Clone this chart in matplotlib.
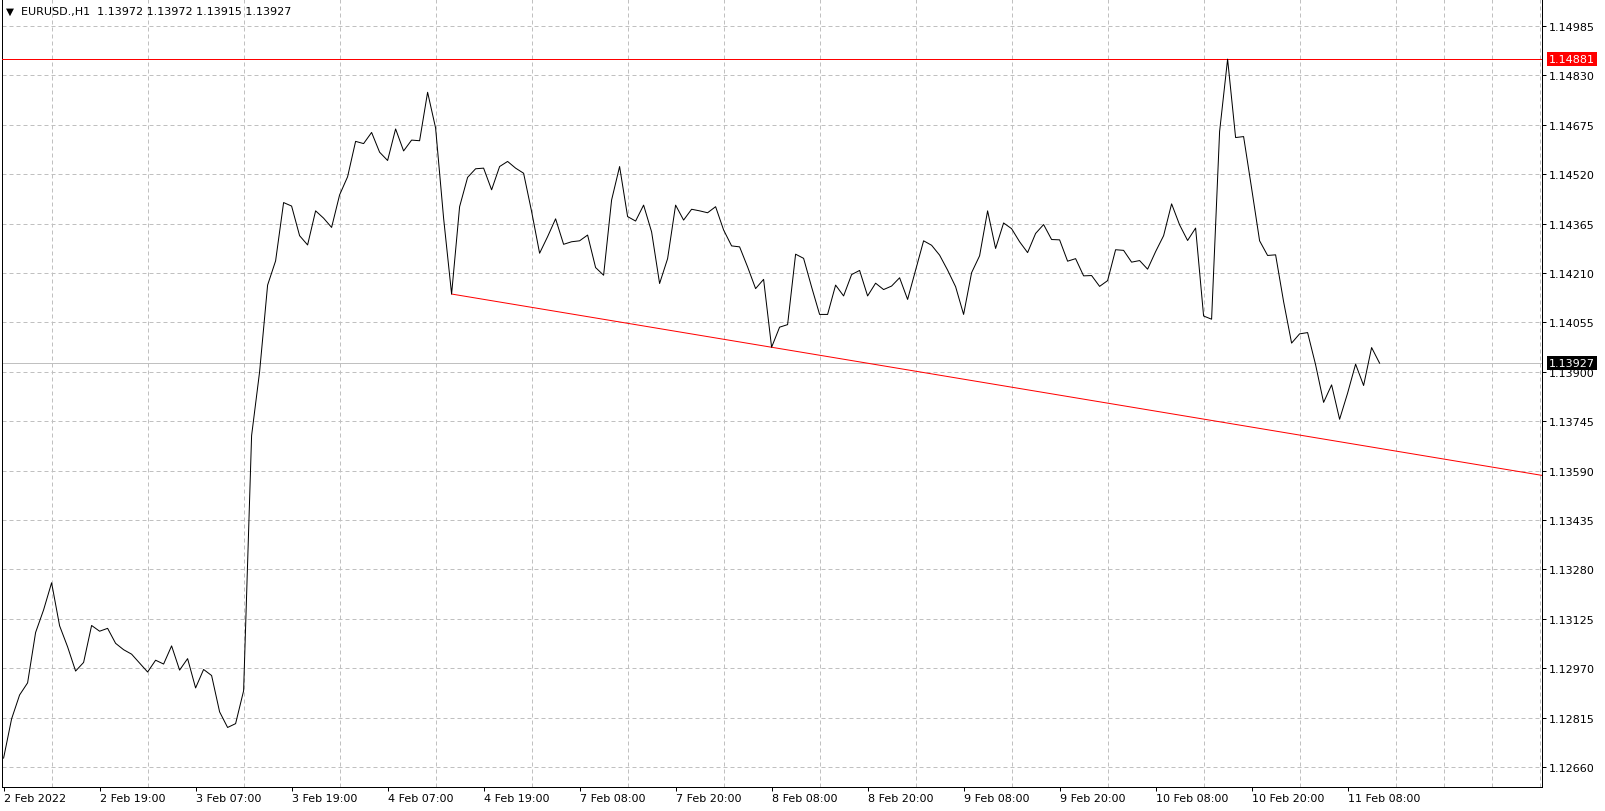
import numpy as np
import matplotlib
matplotlib.use("Agg")
import matplotlib.pyplot as plt
import matplotlib.transforms as mtransforms

# EURUSD H1 closes, 2 Feb 2022 07:00 .. 11 Feb 2022 ~12:00
closes = [
    1.12688, 1.12811, 1.12886, 1.12924, 1.13082, 1.13153, 1.13238, 1.13103, 1.13037, 1.12961,
    1.12988, 1.13104, 1.13086, 1.13095, 1.13048, 1.13028, 1.13014, 1.12986, 1.12958, 1.12995,
    1.12983, 1.13040, 1.12964, 1.13000, 1.12908, 1.12966, 1.12947, 1.12833, 1.12784, 1.12796,
    1.12899, 1.13700, 1.13900, 1.14172, 1.14248, 1.14431, 1.14420, 1.14327, 1.14298, 1.14405,
    1.14382, 1.14353, 1.14455, 1.14512, 1.14623, 1.14616, 1.14651, 1.14589, 1.14563, 1.14662,
    1.14593, 1.14627, 1.14625, 1.14777, 1.14665, 1.14382, 1.14144, 1.14418, 1.14510, 1.14537,
    1.14539, 1.14471, 1.14544, 1.14560, 1.14539, 1.14523, 1.14403, 1.14272, 1.14324, 1.14380,
    1.14300, 1.14308, 1.14311, 1.14329, 1.14227, 1.14203, 1.14439, 1.14544, 1.14387, 1.14373,
    1.14423, 1.14339, 1.14177, 1.14255, 1.14423, 1.14376, 1.14410, 1.14405, 1.14399, 1.14418,
    1.14345, 1.14295, 1.14292, 1.14229, 1.14161, 1.14190, 1.13977, 1.14040, 1.14048, 1.14269,
    1.14256, 1.14166, 1.14080, 1.14080, 1.14172, 1.14138, 1.14205, 1.14218, 1.14138, 1.14178,
    1.14158, 1.14169, 1.14195, 1.14127, 1.14219, 1.14311, 1.14297, 1.14266, 1.14219, 1.14167,
    1.14080, 1.14211, 1.14264, 1.14405, 1.14287, 1.14367, 1.14349, 1.14308, 1.14274, 1.14334,
    1.14362, 1.14315, 1.14314, 1.14247, 1.14255, 1.14201, 1.14202, 1.14168, 1.14186, 1.14283,
    1.14281, 1.14244, 1.14249, 1.14222, 1.14277, 1.14327, 1.14427, 1.14361, 1.14312, 1.14351,
    1.14075, 1.14065, 1.14654, 1.14881, 1.14635, 1.14638, 1.14476, 1.14311, 1.14265, 1.14267,
    1.14120, 1.13990, 1.14019, 1.14023, 1.13922, 1.13804, 1.13859, 1.13751, 1.13833, 1.13924,
    1.13857, 1.13976, 1.13927,
]

# last bar OHLC shown in the header
last_ohlc = ["1.13972", "1.13972", "1.13915", "1.13927"]

# bars that the trendline is anchored to
trend_bars = [56, 96]

x_label_bars = [0, 12, 24, 36, 48, 60, 72, 84, 96, 108, 120, 132, 144, 156, 168]
x_labels = ["2 Feb 2022", "2 Feb 19:00", "3 Feb 07:00", "3 Feb 19:00", "4 Feb 07:00",
            "4 Feb 19:00", "7 Feb 08:00", "7 Feb 20:00", "8 Feb 08:00", "8 Feb 20:00",
            "9 Feb 08:00", "9 Feb 20:00", "10 Feb 08:00", "10 Feb 20:00", "11 Feb 08:00"]
y_ticks = [1.12660, 1.12815, 1.12970, 1.13125, 1.13280, 1.13435, 1.13590, 1.13745,
           1.13900, 1.14055, 1.14210, 1.14365, 1.14520, 1.14675, 1.14830, 1.14985]

W, H = 1606, 812
px = 1 / 100 * 72  # one pixel in points

fig = plt.figure(figsize=(W / 100, H / 100), dpi=100)
fig.patch.set_facecolor("white")
ax = fig.add_axes([2 / W, 24 / H, 1540 / W, 788 / H])

bars = np.arange(len(closes))
ax.plot(bars, closes, color="black", lw=px, zorder=4)

# resistance line at the session high
high = max(closes)
ax.axhline(high, color="#ff0000", lw=px, zorder=3)

# bid line
bid = closes[-1]
ax.axhline(bid, color="#c0c0c0", lw=px, zorder=2)

ax.set_xlim(-0.2, 192.3)
ax.set_ylim(1.125972, 1.150697)

# trendline ray through the two lows
b0, b1 = trend_bars
slope = (closes[b1] - closes[b0]) / (b1 - b0)
x_end = ax.get_xlim()[1]
ax.plot([b0, x_end], [closes[b0], closes[b0] + slope * (x_end - b0)],
        color="#ff0000", lw=px, zorder=3)

# axes styling
for s in ["left", "bottom", "right"]:
    ax.spines[s].set_color("black")
    ax.spines[s].set_linewidth(px)
ax.spines["top"].set_visible(False)

ax.yaxis.tick_right()
ax.set_yticks(y_ticks)
ax.set_yticklabels([f"{v:.5f}" for v in y_ticks])
ax.set_xticks(x_label_bars)
ax.set_xticklabels(x_labels)
ax.set_xticks(np.arange(6, 193, 6), minor=True)
for lab in ax.get_xticklabels():
    lab.set_ha("left")

ax.tick_params(axis="both", which="major", labelsize=8, length=3, width=px,
               color="black", labelcolor="black")
ax.tick_params(axis="x", which="major", pad=1.5)
ax.tick_params(axis="x", which="minor", length=0)
ax.tick_params(axis="y", which="major", pad=2)

grid_kw = dict(color="#c0c0c0", lw=px, linestyle=(0, (4, 3)))
ax.grid(axis="y", which="major", **grid_kw)
ax.grid(axis="x", which="minor", **grid_kw)
ax.set_axisbelow(True)

# price tags on the right scale
trans = mtransforms.blended_transform_factory(ax.transAxes, ax.transData)
tag_x = 1 + 7 / 1540
ax.text(tag_x, high, f"{high:.5f}", transform=trans, fontsize=8, color="white",
        va="center", ha="left", clip_on=False, zorder=10,
        bbox=dict(boxstyle="square,pad=0.18", fc="#ff0000", ec="none"))
ax.text(tag_x, bid, f"{bid:.5f}", transform=trans, fontsize=8, color="white",
        va="center", ha="left", clip_on=False, zorder=10,
        bbox=dict(boxstyle="square,pad=0.18", fc="black", ec="none"))

# header
fig.text(6 / W, 1 - 12 / H, "\u25bc", fontsize=7.5, va="center", ha="left")
fig.text(21 / W, 1 - 12 / H, "EURUSD.,H1  " + " ".join(last_ohlc),
         fontsize=8, va="center", ha="left")

fig.savefig("out.png", dpi=100, facecolor="white")
